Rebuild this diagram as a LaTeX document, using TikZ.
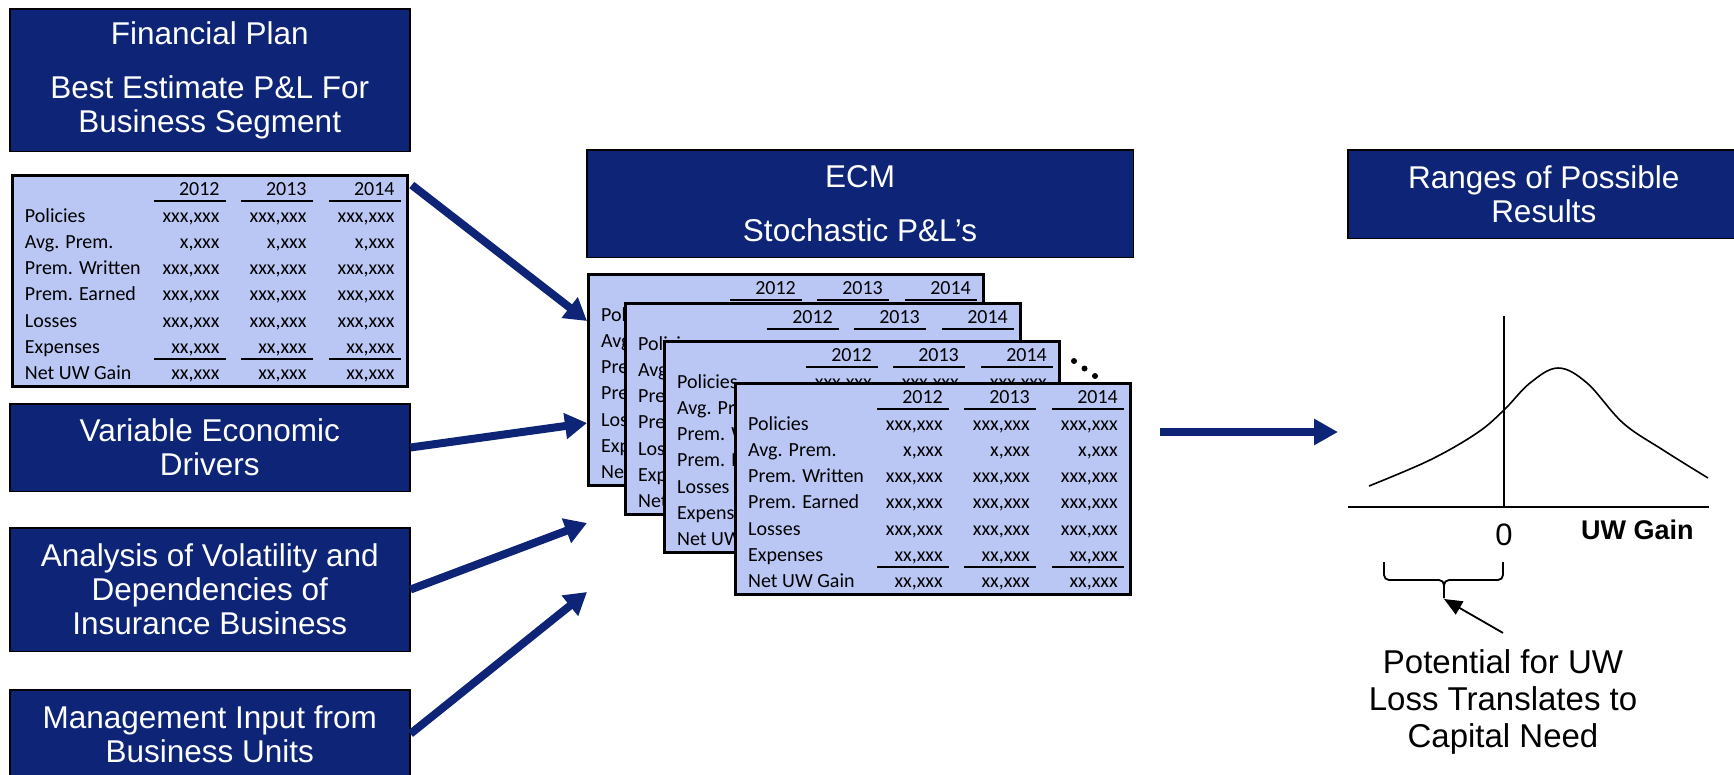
\documentclass[tikz,border=0pt]{standalone}
\usepackage{fontspec}
\setmainfont{Liberation Sans}
\newfontfamily\tabfont{Carlito}
\usetikzlibrary{positioning,arrows.meta}

\definecolor{navy}{RGB}{14,37,119}
\definecolor{plblue}{RGB}{186,199,245}

\newcommand{\boxfont}{\fontsize{31.5}{34}\selectfont}
\newcommand{\cellfont}{\tabfont\fontsize{20}{24}\selectfont}

\tikzstyle{hblock} = [draw=black,rectangle,line width=1.5pt,fill=navy,text=white,align=center,inner sep=0pt,font=\boxfont,minimum width=400pt]
\tikzstyle{pblock} = [draw=black,rectangle,line width=3pt,fill=plblue,inner sep=0pt,minimum width=395pt,minimum height=211pt]
\tikzstyle{rowtxt} = [inner sep=0pt,font=\cellfont,anchor=base west]
\tikzstyle{numtxt} = [inner sep=0pt,font=\cellfont,anchor=base east]
\tikzstyle{uline}  = [line width=2.2pt]
\tikzstyle{farrow} = [draw=navy,line width=8pt,-{Triangle[length=22pt,width=25pt]}]
\tikzstyle{karrow} = [line width=1.8pt,-{Triangle[length=18pt,width=15pt]}]

% rows of one P&L sheet over the frame #1; #2 = rows whose values show
\newcommand{\plrows}[2]{%
  \begin{scope}[shift={(#1.north west)}]
    \foreach \c/\yr in {209/2012,296/2013,384/2014}{
      \node[numtxt] at (\c,21) {\yr};
      \draw[uline] (\c-66,27) -- (\c+6,27);
      \ifnum#2>5\relax \draw[uline] (\c-66,185) -- (\c+6,185);\fi
    }
    \foreach \lab/\val [count=\i from 0] in {Policies/{xxx,xxx},Avg. Prem./{x,xxx},Prem. Written/{xxx,xxx},Prem. Earned/{xxx,xxx},Losses/{xxx,xxx},Expenses/{xx,xxx},Net UW Gain/{xx,xxx}}{
      \node[rowtxt] at (14,48+26.33*\i) {\lab};
      \ifnum\i<#2\relax
        \foreach \c in {209,296,384}
          \node[numtxt] at (\c,48+26.33*\i) {\val};
      \fi
    }
  \end{scope}}

\begin{document}
\begin{tikzpicture}[x=1pt,y=-1pt]
			\useasboundingbox (0,0) rectangle (1734,774);
			% inputs
			\node [hblock,minimum height=142.5pt,anchor=north west](fin) at (9,8){Financial Plan\\[20pt]Best Estimate P\&L For\\Business Segment};
			\node [pblock,below=22pt of fin](t0){};
			\plrows{t0}{7}
			\node [hblock,minimum height=87.5pt,below=15pt of t0](var){Variable Economic\\Drivers};
			\node [hblock,minimum height=123.5pt,below=35pt of var](ana){Analysis of Volatility and\\Dependencies of\\Insurance Business};
			\node [hblock,minimum height=88pt,below=37pt of ana](mgmt){Management Input from\\Business Units};

			% stochastic P&L stack
			\node [pblock,anchor=north west](s1) at (587,273){};
			\plrows{s1}{0}
			\node [pblock,anchor=north west](s2) at ([shift={(37,29)}]s1.north west){};
			\plrows{s2}{0}
			\node [pblock,anchor=north west](s3) at ([shift={(39,38)}]s2.north west){};
			\plrows{s3}{1}
			\foreach \d in {0,1,2}
				\fill ([shift={(13+10.5*\d,21+7.5*\d)}]s3.north east) circle (3);
			\node [pblock,anchor=north west](s4) at ([shift={(71,42)}]s3.north west){};
			\plrows{s4}{7}
			\node [hblock,minimum width=546.5pt,minimum height=107.5pt,anchor=north west](ecm) at (586,149){ECM\\[20pt]Stochastic P\&L’s};
			\node [hblock,minimum width=392pt,minimum height=88.5pt,anchor=north west](rng) at (1347,149){Ranges of Possible\\Results};

			\coordinate (in1) at ([shift={(0,48)}]s1.north west);
			\coordinate (in2) at ([shift={(0,150)}]s1.north west);
			\coordinate (in3) at ([shift={(0,250)}]s1.north west);
			\coordinate (in4) at ([shift={(0,319)}]s1.north west);
			\draw [farrow] ([shift={(3,11)}]t0.north east) -- (in1);
			\draw [farrow] (var.east) -- (in2);
			\draw [farrow] (ana.east) -- (in3);
			\draw [farrow] (mgmt.east) -- (in4);
			\draw [farrow,-{Triangle[length=24pt,width=25pt]}] ([shift={(28,50)}]s4.north east) -- ([shift={(206,50)}]s4.north east);

			% distribution of results
			\coordinate (origin) at (1504,507);
			\draw [line width=2.5pt] (1348,507) -- (1709,507);
			\draw [line width=1.8pt] (origin) -- (1504,316);
			\draw [line width=1.6pt] plot[smooth,tension=0.6] coordinates {(1369,486) (1430,460) (1477,433) (1504,410) (1530,383) (1558,368) (1587,383) (1623,423) (1663,450) (1708,478)};
			\node [font=\fontsize{31}{34}\selectfont](zero) at (1504,535){0};
			\node [font=\bfseries\fontsize{27}{30}\selectfont,anchor=base west,inner sep=0pt](uwg) at (1581,539){UW Gain};
			\draw [line width=1.8pt,rounded corners=5pt] (1384,562) -- (1384,580) -- (1444,580) -- (1444,598);
			\draw [line width=1.8pt,rounded corners=5pt] (1503,562) -- (1503,580) -- (1444,580) -- (1444,598);
			\coordinate (btip) at (1444,599);
			\node [font=\fontsize{33}{37}\selectfont,align=center,inner sep=0pt](note) at (1503,701.5){Potential for UW\\Loss Translates to\\Capital Need};
			\draw [karrow] ([yshift=16pt]note.north) -- (btip);
\end{tikzpicture}
\end{document}
